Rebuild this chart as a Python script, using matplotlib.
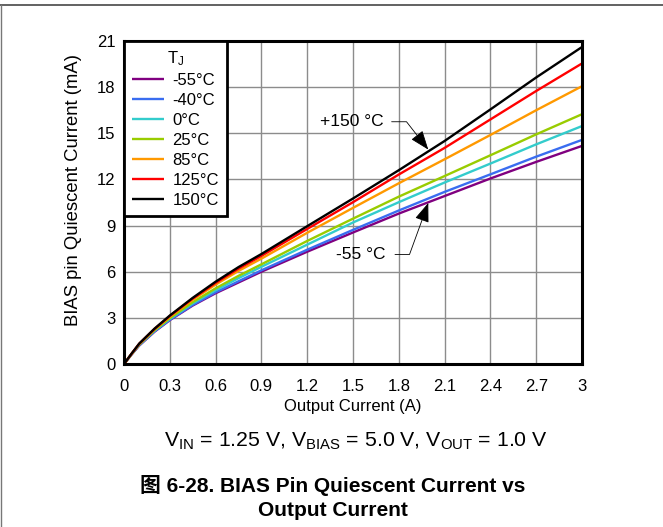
import matplotlib
matplotlib.use("Agg")
import matplotlib.pyplot as plt
from matplotlib.lines import Line2D

plt.rcParams['font.family'] = ['Liberation Sans', 'Noto Sans CJK SC', 'DejaVu Sans']
plt.rcParams['mathtext.fontset'] = 'custom'
plt.rcParams['mathtext.rm'] = 'Liberation Sans'
plt.rcParams['mathtext.it'] = 'Liberation Sans:italic'
plt.rcParams['mathtext.bf'] = 'Liberation Sans:bold'

# ---- data ----
current_a = [0, 0.05, 0.1, 0.2, 0.3, 0.45, 0.6, 0.75, 0.9, 1.2, 1.5, 1.8, 2.1, 2.4, 2.7, 3.0]
iq_m55 = [0, 0.62, 1.2, 2.1, 2.85, 3.8, 4.6, 5.3, 6.0, 7.3, 8.55, 9.78, 10.92, 12.06, 13.14, 14.18]
iq_m40 = [0, 0.63, 1.22, 2.12, 2.87, 3.84, 4.66, 5.38, 6.09, 7.43, 8.72, 9.98, 11.19, 12.33, 13.48, 14.57]
iq_0 = [0, 0.64, 1.25, 2.17, 2.93, 3.94, 4.8, 5.58, 6.32, 7.76, 9.2, 10.52, 11.8, 13.03, 14.28, 15.47]
iq_25 = [0, 0.65, 1.27, 2.2, 2.98, 4.02, 4.92, 5.73, 6.48, 8.0, 9.45, 10.88, 12.22, 13.57, 14.93, 16.24]
iq_85 = [0, 0.66, 1.3, 2.26, 3.07, 4.18, 5.16, 6.05, 6.85, 8.53, 10.15, 11.75, 13.31, 14.89, 16.5, 18.06]
iq_125 = [0, 0.67, 1.32, 2.28, 3.12, 4.25, 5.27, 6.2, 7.03, 8.78, 10.52, 12.32, 14.05, 15.9, 17.75, 19.54]
iq_150 = [0, 0.68, 1.33, 2.3, 3.15, 4.3, 5.35, 6.3, 7.15, 8.96, 10.76, 12.6, 14.5, 16.55, 18.63, 20.61]

series_labels = ['-55°C', '-40°C', '0°C', '25°C', '85°C', '125°C', '150°C']
series_values = [iq_m55, iq_m40, iq_0, iq_25, iq_85, iq_125, iq_150]
series_colors = ['#800080', '#3a6df0', '#33cccc', '#99cc00', '#ff9900', '#ff0000', '#000000']

x_ticks = [0, 0.3, 0.6, 0.9, 1.2, 1.5, 1.8, 2.1, 2.4, 2.7, 3]
x_tick_labels = ['0', '0.3', '0.6', '0.9', '1.2', '1.5', '1.8', '2.1', '2.4', '2.7', '3']
y_ticks = [0, 3, 6, 9, 12, 15, 18, 21]
y_tick_labels = ['0', '3', '6', '9', '12', '15', '18', '21']

fig = plt.figure(figsize=(6.63, 5.27), dpi=100)
ax = fig.add_axes([124 / 663, 1 - 364 / 527, 458 / 663, 323 / 527])

for vals, lab, col in zip(series_values, series_labels, series_colors):
    ax.plot(current_a, vals, color=col, lw=1.7, label=lab, solid_capstyle='butt')

ax.set_xlim(0, 3)
ax.set_ylim(0, 21)
ax.set_xticks(x_ticks)
ax.set_xticklabels(x_tick_labels)
ax.set_yticks(y_ticks)
ax.set_yticklabels(y_tick_labels)
ax.tick_params(length=0, labelsize=12)
ax.tick_params(axis='y', pad=6)
ax.tick_params(axis='x', pad=10.5)
ax.grid(True, color='#8c8c8c', lw=1.0)
ax.set_axisbelow(True)
for s in ax.spines.values():
    s.set_linewidth(2.2)
    s.set_color('black')

ax.set_xlabel('Output Current (A)', fontsize=12, labelpad=4)
ax.set_ylabel('BIAS pin Quiescent Current (mA)', fontsize=13.3)
ax.yaxis.set_label_coords(-0.092, 0.54)

leg = ax.legend(loc='upper left', title='T$_\\mathrm{J}$', fontsize=12, title_fontsize=12,
                frameon=True, fancybox=False, borderaxespad=0.0, handlelength=1.9,
                handletextpad=0.5, labelspacing=0.3, borderpad=0.5)
leg.get_frame().set_edgecolor('black')
leg.get_frame().set_linewidth(2.0)
leg.get_frame().set_alpha(1)

# annotations
ax.text(1.70, 15.75, '+150 °C', fontsize=12.5, ha='right', va='center')
ax.annotate('', xy=(1.993, 13.94), xytext=(1.753, 15.75),
            arrowprops=dict(arrowstyle='-|>,head_length=1.2,head_width=0.45', color='black', lw=0.6,
                            connectionstyle='angle,angleA=0,angleB=128,rad=0', shrinkA=0, shrinkB=0))
ax.text(1.71, 7.12, '-55 °C', fontsize=12.5, ha='right', va='center')
ax.annotate('', xy=(1.993, 10.47), xytext=(1.775, 7.12),
            arrowprops=dict(arrowstyle='-|>,head_length=1.2,head_width=0.45', color='black', lw=0.6,
                            connectionstyle='angle,angleA=0,angleB=-110,rad=0', shrinkA=0, shrinkB=0))

# subtitle and caption
fig.text(356 / 663, 1 - 441 / 527,
         'V$_\\mathrm{IN}$ = 1.25 V, V$_\\mathrm{BIAS}$ = 5.0 V, V$_\\mathrm{OUT}$ = 1.0 V',
         fontsize=15.3, ha='center', va='center')
fig.text(333 / 663, 1 - 486 / 527, '图 6-28. BIAS Pin Quiescent Current vs',
         fontsize=15, fontweight='bold', ha='center', va='center')
fig.text(333 / 663, 1 - 510 / 527, 'Output Current',
         fontsize=15, fontweight='bold', ha='center', va='center')

# page frame lines
fig.add_artist(Line2D([0, 1], [1 - 5 / 527, 1 - 5 / 527], transform=fig.transFigure,
                      color='#555555', lw=1.3))
fig.add_artist(Line2D([1 / 663, 1 / 663], [0, 1 - 5 / 527], transform=fig.transFigure,
                      color='#777777', lw=1.0))

fig.savefig('out.png', dpi=100)
